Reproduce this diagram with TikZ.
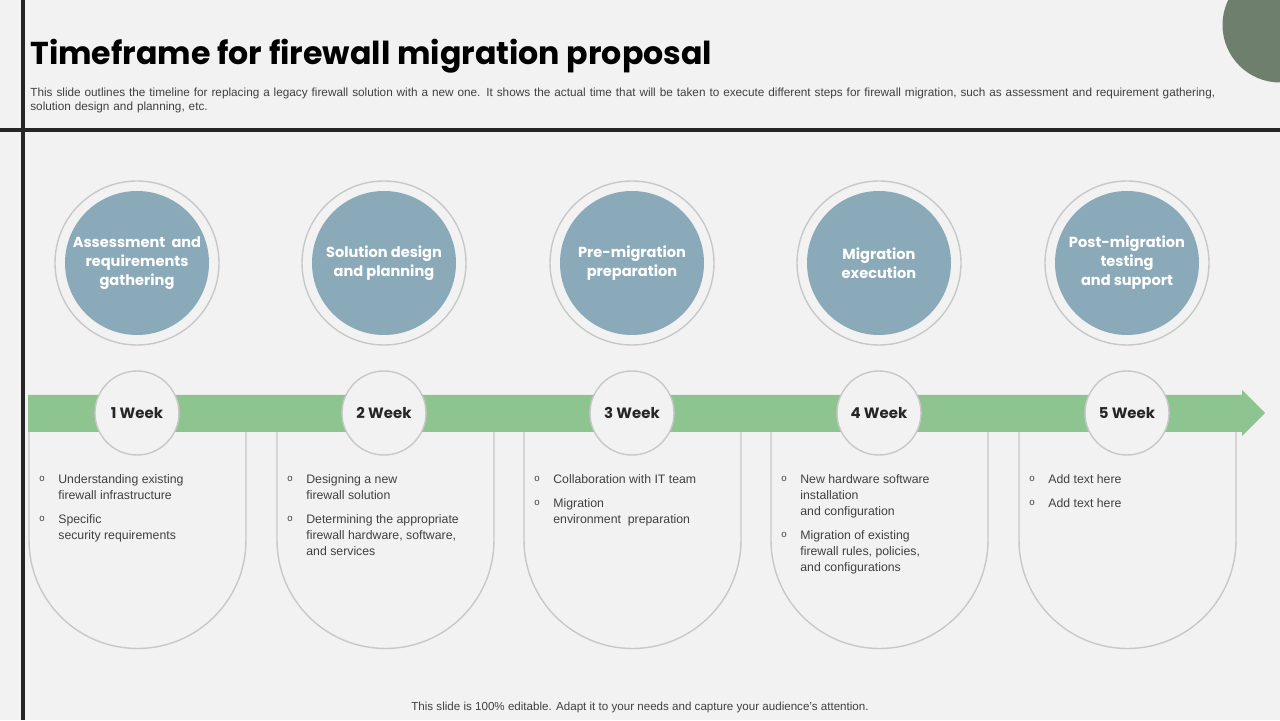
\documentclass[tikz,border=0pt]{standalone}
\usepackage{fontspec}
\setmainfont{Liberation Sans}
\newfontfamily\headfont{Poppins}
\usetikzlibrary{positioning}
\definecolor{pagebg}{HTML}{F2F2F2}
\definecolor{darkline}{HTML}{262626}
\definecolor{stepblue}{HTML}{8AAAB9}
\definecolor{bandgreen}{HTML}{8DC48F}
\definecolor{ringgray}{HTML}{C8C8C8}
\definecolor{cornergreen}{HTML}{6F7F6E}
\definecolor{bodytext}{HTML}{404040}
\tikzset{
  stepcircle/.style={circle, fill=stepblue, minimum size=2.88cm, inner sep=0pt},
  steplabel/.style={align=center, text=white, inner sep=0pt,
    font=\headfont\fontsize{8.3}{10.8}\selectfont\bfseries},
  stepring/.style={circle, draw=ringgray, line width=0.8pt, fill=pagebg, minimum size=3.28cm},
  weekcircle/.style={circle, draw=ringgray, line width=0.8pt, fill=pagebg, minimum size=1.68cm,
    inner sep=0pt, font=\headfont\fontsize{8.5}{10}\selectfont\bfseries, text=darkline},
  card/.style={draw=ringgray, line width=0.8pt},
  itemtext/.style={anchor=north west, inner sep=0pt, align=left, text=bodytext,
    font=\fontsize{7}{9.1}\selectfont},
  bullet/.style={anchor=north west, inner sep=0pt, text=bodytext, font=\fontsize{5.5}{7}\selectfont}
}
\newcommand{\stepcard}[1]{%
  \draw[card] (#1,5.76) -- (#1,3.6) arc[start angle=180, end angle=360, radius=2.17] -- ++(0,2.16);}
\begin{document}
\begin{tikzpicture}
\fill[pagebg] (0,0) rectangle (25.6,14.4);
\useasboundingbox (0,0) rectangle (25.6,14.4);
% corner decoration and frame lines
\begin{scope}
\clip (0,0) rectangle (25.6,14.4);
\fill[cornergreen] (25.6,13.9) circle (1.15);
\end{scope}
\fill[darkline] (0.42,0) rectangle (0.5,14.4);
\fill[darkline] (0,11.76) rectangle (25.6,11.84);
% title
\node[anchor=west, inner sep=0pt, font=\headfont\fontsize{18}{22}\selectfont\bfseries, text=black]
  (title) at (0.6,13.27) {Timeframe for firewall migration proposal};
\node[anchor=north west, inner sep=0pt, text width=24.6cm, align=left, text=bodytext,
  font=\fontsize{6.7}{8}\selectfont] (desc) at (0.6,12.64)
  {This slide outlines the timeline for replacing a legacy firewall solution with a new one. It shows the actual time that will be taken to execute different steps for firewall migration, such as assessment and requirement gathering,\\solution design and planning, etc.};
% cards
\foreach \x in {0.58,5.54,10.48,15.42,20.38} {\stepcard{\x}}
% arrow band
\fill[bandgreen] (0.56,5.76) -- (24.84,5.76) -- (24.84,5.68) -- (25.3,6.14) -- (24.84,6.6)
  -- (24.84,6.5) -- (0.56,6.5) -- cycle;
% steps
\foreach \i/\x/\lbl in {1/2.74/{Assessment\ \ and\\requirements\\gathering},
                        2/7.68/{Solution design\\and planning},
                        3/12.64/{Pre-migration\\preparation},
                        4/17.58/{Migration\\execution},
                        5/22.54/{Post-migration\\testing\\and support}} {
  \node[stepring] (ring\i) at (\x,9.14) {};
  \node[stepcircle] (step\i) at (\x,9.14) {};
  \node[steplabel] (lbl\i) at (step\i) {\lbl};
  \node[weekcircle] (week\i) at (\x,6.14) {\i{} Week};
}
% items
\foreach \x/\y/\txt in {
  0.58/4.92/{Understanding existing\\firewall infrastructure},
  0.58/4.12/{Specific\\security requirements},
  5.54/4.92/{Designing a new\\firewall solution},
  5.54/4.12/{Determining the appropriate\\firewall hardware, software,\\and services},
  10.48/4.92/{Collaboration with IT team},
  10.48/4.44/{Migration\\environment\ \ preparation},
  15.42/4.92/{New hardware software\\installation\\and configuration},
  15.42/3.80/{Migration of existing\\firewall rules, policies,\\and configurations},
  20.38/4.92/{Add text here},
  20.38/4.44/{Add text here}} {
  \node[bullet] at ({\x+0.2},{\y-0.04}) {o};
  \node[itemtext] at ({\x+0.58},\y) {\txt};
}
% footer
\node[text=bodytext, font=\fontsize{6.6}{8}\selectfont] (footer) at (12.8,0.24)
  {This slide is 100\% editable. Adapt it to your needs and capture your audience's attention.};
\end{tikzpicture}
\end{document}
